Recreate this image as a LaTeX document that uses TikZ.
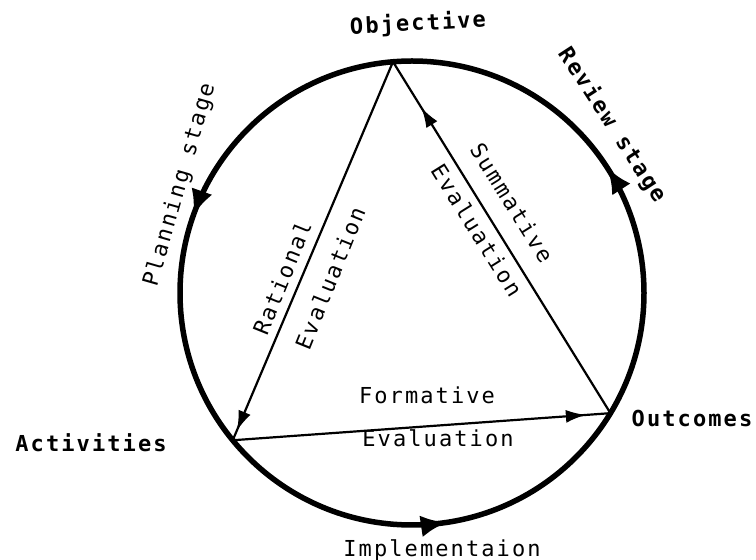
\documentclass[tikz,border=0pt]{standalone}
\usepackage{fontspec}
\usetikzlibrary{arrows.meta,decorations.markings,calc}
\newfontfamily\tw[LetterSpace=9.5]{DejaVu Sans Mono}
\tikzset{
  lbl/.style={font=\tw\fontsize{22}{25}\selectfont, inner sep=0pt},
  blbl/.style={font=\tw\bfseries\fontsize{22}{25}\selectfont, inner sep=0pt},
  ring/.style={line width=5.5pt},
  edge/.style={line width=2.2pt},
}
\begin{document}
\begin{tikzpicture}[x=1pt,y=1pt]
\useasboundingbox (0,0) rectangle (756,560);
\coordinate (c) at (412,267);
\coordinate (obj) at ($(c)+(94.7:232)$);
\coordinate (act) at ($(c)+(219.4:232)$);
\coordinate (out) at ($(c)+(328.8:232)$);
% ring with stage arrows (counterclockwise)
\draw[ring, decoration={markings,
   mark=at position 0.091 with {\arrow{Latex[length=26pt,width=22pt]}},
   mark=at position 0.446 with {\arrow{Latex[length=26pt,width=22pt]}},
   mark=at position 0.774 with {\arrow{Latex[length=26pt,width=22pt]}}},
   postaction=decorate] (c) circle (232pt);
% triangle edges
\draw[edge, decoration={markings, mark=at position 0.975 with {\arrow{Latex[length=20pt,width=13pt]}}}, postaction=decorate] (obj) -- (act);
\draw[edge, decoration={markings, mark=at position 0.935 with {\arrow{Latex[length=20pt,width=13pt]}}}, postaction=decorate] (act) -- (out);
\draw[edge, decoration={markings, mark=at position 0.87 with {\arrow{Latex[length=20pt,width=13pt]}}}, postaction=decorate] (out) -- (obj);
% labels
\node[blbl, rotate=3] (lobj) at (418,536) {Objective};
\node[lbl, rotate=74] (lplan) at (180,375) {Planning stage};
\node[blbl, rotate=-57] (lrev) at (612,435) {Review stage};
\node[lbl, rotate=68] (lrat) at (282,282) {Rational};
\node[lbl, rotate=68] (lrat2) at (330,282) {Evaluation};
\node[lbl, rotate=-58] (lsum) at (512,357) {Summative};
\node[lbl, rotate=-58] (lsum2) at (477,330) {Evaluation};
\node[lbl] (lform) at (427,165) {Formative};
\node[lbl] (lform2) at (438,122) {Evaluation};
\node[blbl] (lact) at (91,117) {Activities};
\node[blbl] (lout) at (692,142) {Outcomes};
\node[lbl] (limp) at (442,10) {Implementaion};
\end{tikzpicture}
\end{document}
